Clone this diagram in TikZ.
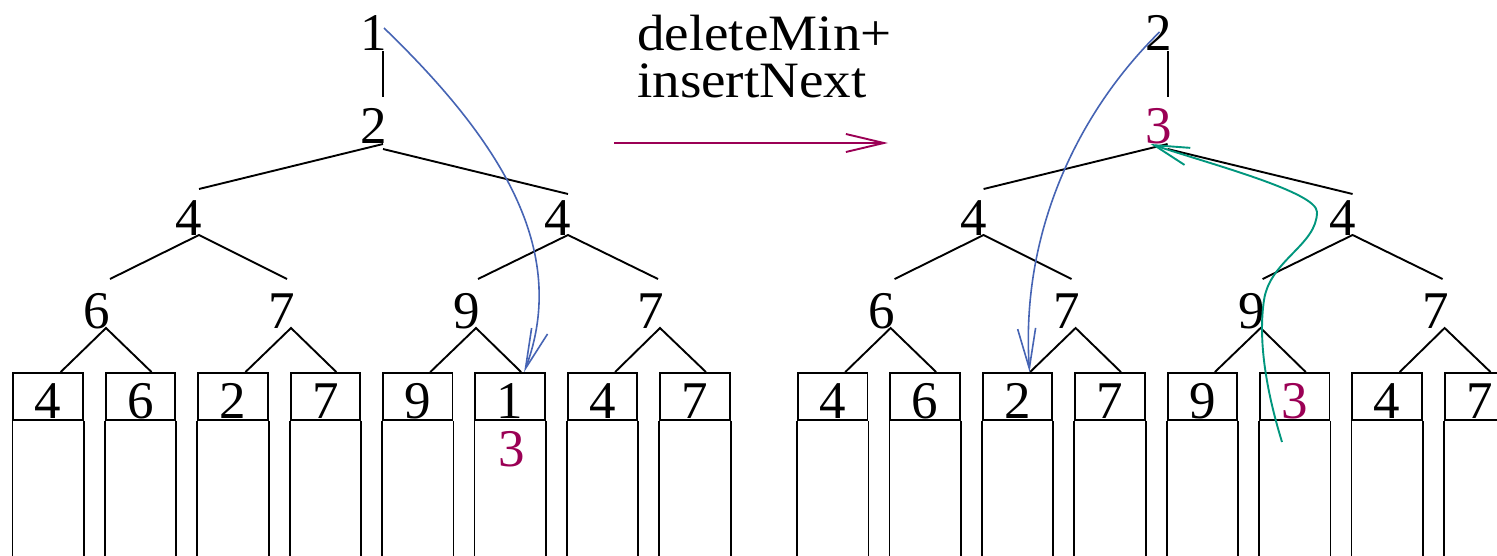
\documentclass[tikz,border=0pt]{standalone}
\usepackage{fontspec}
\setmainfont{Liberation Serif}
\usetikzlibrary{arrows.meta,calc}
\definecolor{hred}{RGB}{155,0,85}
\definecolor{hblue}{RGB}{70,100,180}
\definecolor{hgreen}{RGB}{0,150,125}
\tikzset{
 dig/.style={font=\fontsize{53}{53}\selectfont, inner sep=0pt, anchor=base},
 lbl/.style={font=\fontsize{51}{47}\selectfont, inner sep=0pt, anchor=base west, xscale=1.08},
 tline/.style={line width=1.9pt},
 leafbox/.style={draw, line width=1.9pt, minimum width=69.5pt, minimum height=47pt, inner sep=0pt},
 barb/.style={-{Straight Barb[length=38pt,width=18pt]}},
}
\newcommand\heap[5]{%
 \begin{scope}[xshift=#2]
  \foreach \k/\lab in {1/4,2/6,3/2,4/7,5/9,6/{#5},7/4,8/7}{
    \node[leafbox] (#1box\k) at ({13.4+92.4*(\k-1)+34.75},396.5) {};
    \draw[tline] (#1box\k.south west) -- ++(0,200) (#1box\k.south east) -- ++(0,200);
    \node[dig] (#1leaf\k) at ({13.4+92.4*(\k-1)+34.75},418) {\lab};
  }
  \node[dig] (#1t) at (374,50) {#3};
  \node[dig] (#1r) at (374,143) {#4};
  \node[dig] (#1a) at (189,235) {4};
  \node[dig] (#1b) at (558,235) {4};
  \node[dig] (#1c) at (97,328) {6};
  \node[dig] (#1d) at (282,328) {7};
  \node[dig] (#1e) at (467,328) {9};
  \node[dig] (#1f) at (651,328) {7};
  \draw[tline] ($(#1t.base)+(9,1)$) -- ($(#1r.base)+(9,-46)$);
  \draw[tline] ($(#1r.base)+(9,1)$) -- ($(#1a.base)+(10,-46)$);
  \draw[tline] ($(#1r.base)+(9,6)$) -- ($(#1b.base)+(10,-41)$);
  \draw[tline] ($(#1c.base)+(13,-49)$) -- ($(#1a.base)+(10,0)$) -- ($(#1d.base)+(5,-49)$);
  \draw[tline] ($(#1e.base)+(11,-49)$) -- ($(#1b.base)+(10,0)$) -- ($(#1f.base)+(7,-49)$);
  \draw[tline] ($(#1box1.north)+(12.5,0)$) -- ($(#1c.base)+(9,0)$) -- ($(#1box2.north)+(11,0)$);
  \draw[tline] ($(#1box3.north)+(12.5,0)$) -- ($(#1d.base)+(9,0)$) -- ($(#1box4.north)+(11,0)$);
  \draw[tline] ($(#1box5.north)+(12.5,0)$) -- ($(#1e.base)+(9,0)$) -- ($(#1box6.north)+(11,0)$);
  \draw[tline] ($(#1box7.north)+(12.5,0)$) -- ($(#1f.base)+(9,0)$) -- ($(#1box8.north)+(11,0)$);
 \end{scope}}
\begin{document}
\begin{tikzpicture}[x=1pt,y=-1pt]
\useasboundingbox (0,0) rectangle (1497,555);
\clip (0,0) rectangle (1497,555);
\fill[white] (0,0) rectangle (1497,555);
\heap{L}{0pt}{1}{2}{1}
\heap{R}{784.6pt}{2}{\textcolor{hred}{3}}{\textcolor{hred}{3}}
\node[dig, text=hred] (Lnew) at (512,466) {3};
% caption and red arrow
\node[lbl] (cap1) at (637,50) {deleteMin+};
\node[lbl] (cap2) at (637,97) {insertNext};
\coordinate (ra) at (614,143);
\coordinate (rb) at (888,143);
\draw[hred, line width=1.9pt, barb] (ra) -- (rb);
% left blue arrow
\coordinate (lbs) at ($(Lt.base)+(10,-22)$);
\coordinate (lbe) at ($(Lbox6.north)+(14,0)$);
\draw[hblue, line width=1.6pt, -{Straight Barb[length=40pt,width=17pt]}] (lbs) .. controls (500,140) and (570,250) .. (lbe);
% right blue arrow
\coordinate (rbs) at ($(Rt.base)+(1,-18)$);
\coordinate (rbe) at ($(Rbox3.north)+(12,0)$);
\draw[hblue, line width=1.6pt, -{Straight Barb[length=40pt,width=18pt]}] (rbs) .. controls (1080,110) and (1020,230) .. (rbe);
% green arrow
\coordinate (gs) at (1282,442);
\coordinate (ge) at ($(Rr.base)+(-8,1)$);
\draw[hgreen, line width=1.9pt, -{Straight Barb[length=35pt,width=18pt]}] (gs) .. controls (1266,390) and (1258,340) .. (1264,300) .. controls (1270,260) and (1317,245) .. (1317,212) .. controls (1317,192) and (1210,164) .. (ge);
\end{tikzpicture}
\end{document}
